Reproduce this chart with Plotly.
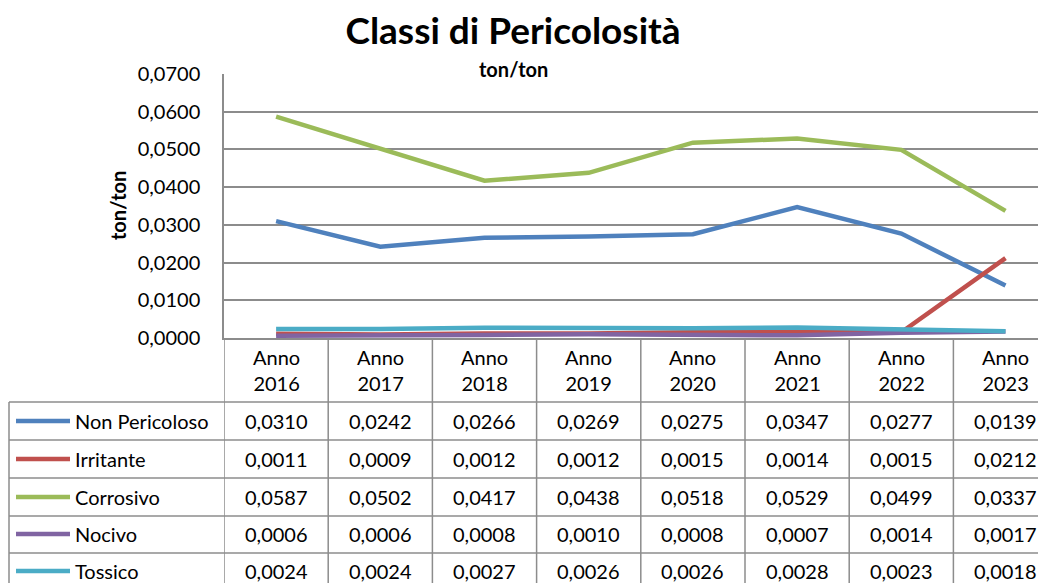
import plotly.graph_objects as go

years = ["Anno 2016", "Anno 2017", "Anno 2018", "Anno 2019", "Anno 2020", "Anno 2021", "Anno 2022", "Anno 2023"]
header_labels = ["Anno<br>2016", "Anno<br>2017", "Anno<br>2018", "Anno<br>2019", "Anno<br>2020", "Anno<br>2021", "Anno<br>2022", "Anno<br>2023"]

series_names = ["Non Pericoloso", "Irritante", "Corrosivo", "Nocivo", "Tossico"]
non_pericoloso = [0.0310, 0.0242, 0.0266, 0.0269, 0.0275, 0.0347, 0.0277, 0.0139]
irritante = [0.0011, 0.0009, 0.0012, 0.0012, 0.0015, 0.0014, 0.0015, 0.0212]
corrosivo = [0.0587, 0.0502, 0.0417, 0.0438, 0.0518, 0.0529, 0.0499, 0.0337]
nocivo = [0.0006, 0.0006, 0.0008, 0.0010, 0.0008, 0.0007, 0.0014, 0.0017]
tossico = [0.0024, 0.0024, 0.0027, 0.0026, 0.0026, 0.0028, 0.0023, 0.0018]
series_values = [non_pericoloso, irritante, corrosivo, nocivo, tossico]
colors = ["#4F81BD", "#C0504D", "#9BBB59", "#8064A2", "#4BACC6"]

FONT = "Lato"
OFF = 8  # page body margin
W, H = 1046 - OFF, 583 - OFF
ML = 224 - OFF
MT = 74 - OFF
PLOT_BOTTOM = 338 - OFF
MB = H - PLOT_BOTTOM
plot_h = H - MT - MB
plot_w = W - ML


def py(px):  # page pixel y -> paper y
    return (PLOT_BOTTOM - (px - OFF)) / plot_h


def pxx(px):  # page pixel x -> paper x
    return ((px - OFF) - ML) / plot_w


fig = go.Figure()
for name, vals, col in zip(series_names, series_values, colors):
    fig.add_trace(go.Scatter(x=years, y=vals, mode="lines", name=name,
                             line=dict(color=col, width=4.5), showlegend=False))

grid = "#8C8C8C"
shapes = []
annotations = []

# table horizontal lines
row_bounds = [402, 440, 478, 516, 553]
for rb in row_bounds:
    shapes.append(dict(type="line", xref="paper", yref="paper", x0=pxx(9), x1=1.0,
                       y0=py(rb), y1=py(rb), line=dict(color=grid, width=1.5)))
# table vertical lines
for k in range(len(years) + 1):
    shapes.append(dict(type="line", xref="x", yref="paper", x0=k - 0.5, x1=k - 0.5,
                       y0=0, y1=-1.1, line=dict(color=grid, width=1.5)))
shapes.append(dict(type="line", xref="paper", yref="paper", x0=pxx(9), x1=pxx(9),
                   y0=py(402), y1=-1.1, line=dict(color=grid, width=1.5)))

# header
for i, lab in enumerate(header_labels):
    annotations.append(dict(x=years[i], xref="x", y=py(370), yref="paper", text=lab,
                            showarrow=False, font=dict(family=FONT, size=20, color="#000"),
                            xanchor="center", yanchor="middle"))

row_centers = [421, 459, 497, 534, 571]
for r, (name, vals, col) in enumerate(zip(series_names, series_values, colors)):
    yc = py(row_centers[r])
    shapes.append(dict(type="line", xref="paper", yref="paper", x0=pxx(16), x1=pxx(70),
                       y0=yc, y1=yc, line=dict(color=col, width=4.5)))
    annotations.append(dict(x=pxx(73), xref="paper", y=yc, yref="paper", text=name,
                            showarrow=False, xanchor="left", yanchor="middle",
                            font=dict(family=FONT, size=20, color="#000")))
    for i, v in enumerate(vals):
        annotations.append(dict(x=years[i], xref="x", y=yc, yref="paper",
                                text=f"{v:.4f}".replace(".", ","), showarrow=False,
                                xanchor="center", yanchor="middle",
                                font=dict(family=FONT, size=20, color="#000")))

# subtitle and y title
annotations.append(dict(x=pxx(513), xref="paper", y=py(69), yref="paper", text="<b>ton/ton</b>",
                        showarrow=False, xanchor="center", yanchor="middle",
                        font=dict(family=FONT, size=20, color="#000")))
annotations.append(dict(x=pxx(118), xref="paper", y=py(205), yref="paper", text="<b>ton/ton</b>",
                        showarrow=False, xanchor="center", yanchor="middle", textangle=-90,
                        font=dict(family=FONT, size=20, color="#000")))

fig.update_layout(
    width=W, height=H,
    margin=dict(l=ML, r=0, t=MT, b=MB),
    paper_bgcolor="white", plot_bgcolor="white",
    separators=",.",
    title=dict(text="<b>Classi di Pericolosità</b>", x=(513 - OFF) / W, xref="container",
               y=1 - (31 - OFF) / H, yref="container", xanchor="center", yanchor="middle",
               font=dict(family=FONT, size=37, color="#000")),
    xaxis=dict(type="category", range=[-0.5, -0.5 + plot_w / 104.2], showticklabels=False,
               showgrid=False, zeroline=False, showline=True, linecolor=grid, linewidth=1.5,
               ticks=""),
    yaxis=dict(range=[0, 0.07], dtick=0.01, tickformat=".4f", showgrid=True, gridcolor=grid,
               gridwidth=1.5, zeroline=False, showline=True, linecolor=grid, linewidth=1.5,
               ticks="", ticklabelstandoff=18,
               tickfont=dict(family=FONT, size=20, color="#000")),
    shapes=shapes, annotations=annotations,
    font=dict(family=FONT),
)

fig.write_html("out.html")
